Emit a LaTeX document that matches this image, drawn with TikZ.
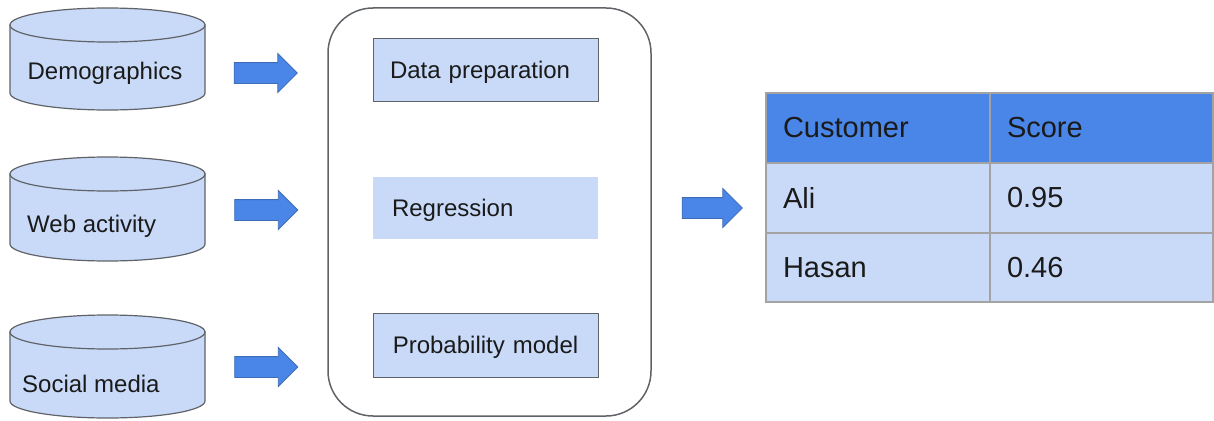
\documentclass[tikz,border=0pt]{standalone}
\usepackage{fontspec}
\setmainfont{Liberation Sans}
\usetikzlibrary{shapes.arrows}
\definecolor{lightblue}{HTML}{C9DAF8}
\definecolor{midblue}{HTML}{4A86E8}
\definecolor{arrowline}{HTML}{3E6CB8}
\definecolor{darkline}{HTML}{5F6368}
\definecolor{tableline}{HTML}{A3A3A3}
\definecolor{txt}{HTML}{1A1A1A}
\tikzset{
  cylfill/.style={fill=lightblue, draw=darkline, line width=1.2pt},
  labeltext/.style={font=\fontsize{24}{28}\selectfont, text=txt, inner sep=0pt},
  blockarrow/.style={single arrow, fill=midblue, draw=arrowline, line width=0.9pt,
    minimum height=63pt, single arrow head extend=9pt,
    single arrow head indent=0pt, inner xsep=0pt, inner ysep=10pt, shape border rotate=0},
  stepbox/.style={fill=lightblue, minimum width=225pt, text width=191pt, align=left,
    inner xsep=17pt, inner ysep=0pt, minimum height=62pt, text depth=0pt,
    font=\fontsize{24}{28}\selectfont, text=txt},
  cell/.style={draw=tableline, line width=1.3pt, minimum width=224pt, minimum height=70pt,
    text width=190pt, align=left, inner xsep=17pt, inner ysep=0pt,
    font=\fontsize{29}{34}\selectfont, text=txt},
}
\newcommand{\dbcyl}[3]{% top-ellipse centre y, bottom-ellipse centre y, name
  \draw[cylfill] (10,#1) -- (10,#2) arc[start angle=180, end angle=0, x radius=97.5, y radius=17] -- (205,#1) -- cycle;
  \draw[cylfill] (107.5,#1) ellipse [x radius=97.5, y radius=17];
}
\begin{document}
\begin{tikzpicture}[x=1pt, y=-1pt]
\useasboundingbox (0,0) rectangle (1214,420);

% cylinders
\dbcyl{25}{93}{c1}
\dbcyl{174}{244}{c2}
\dbcyl{332}{401}{c3}
\node[labeltext] (demo) at (105,73) {Demographics};
\node[labeltext, anchor=west] (web) at (27,226) {Web activity};
\node[labeltext, anchor=west] (social) at (22,384) {Social media};

% input arrows
\node[blockarrow] (a1) at (260.5,73) {};
\node[blockarrow] (a2) at (261,210) {};
\node[blockarrow] (a3) at (261,367) {};

% model container
\node[draw=darkline, line width=1.5pt, rounded corners=45pt, minimum width=323pt,
  minimum height=408pt, inner sep=0pt] (model) at (489.5,212) {};

\node[stepbox, draw=darkline, line width=1pt] (prep) at (485.5,70) {Data preparation};
\node[stepbox, inner xsep=19pt, text width=187pt] (reg) at (485.5,208) {Regression};
\node[stepbox, draw=darkline, line width=1pt, align=center, minimum height=64pt] (prob) at (485.5,345) {Probability model};

% output arrow
\node[blockarrow, minimum height=60pt] (a4) at (707,208) {};

% table
\node[cell, fill=midblue] (h1) at (878,128) {Customer};
\node[cell, fill=midblue, minimum width=223pt, text width=189pt] (h2) at (1101.5,128) {Score};
\node[cell, fill=lightblue] (r1c1) at (878,198) {Ali};
\node[cell, fill=lightblue, minimum width=223pt, text width=189pt] (r1c2) at (1101.5,198) {0.95};
\node[cell, fill=lightblue, minimum height=69pt] (r2c1) at (878,267.5) {Hasan};
\node[cell, fill=lightblue, minimum width=223pt, text width=189pt, minimum height=69pt] (r2c2) at (1101.5,267.5) {0.46};
\end{tikzpicture}
\end{document}
